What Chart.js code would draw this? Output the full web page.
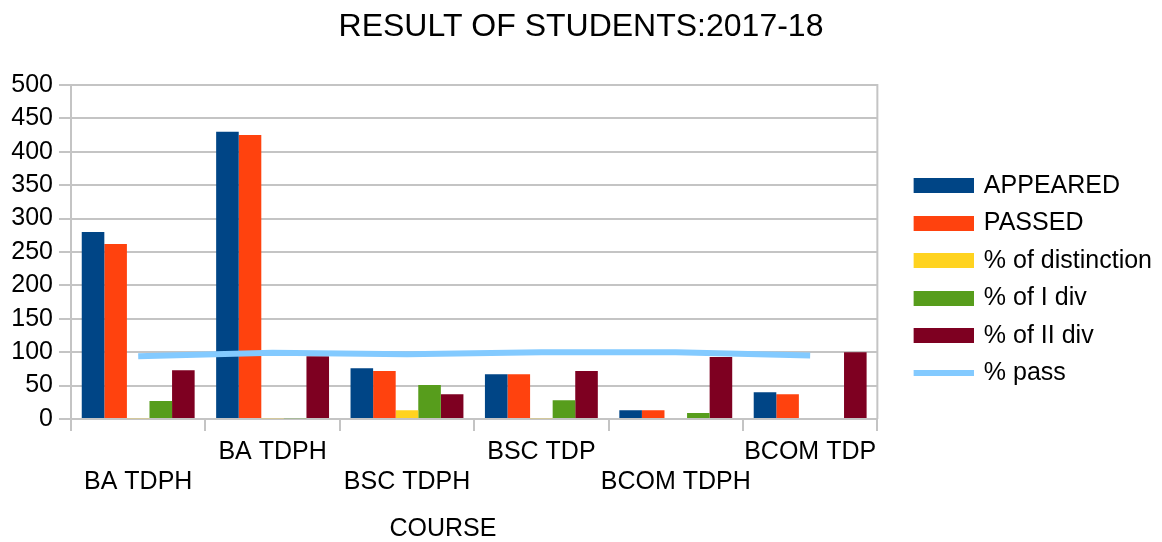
<!DOCTYPE html>
<html>
<head>
<meta charset="utf-8">
<script src="https://cdn.jsdelivr.net/npm/chart.js@4"></script>
<style>
  html, body { margin: 0; padding: 0; background: #fff; }
  #wrap { width: 1162px; height: 542px; }
</style>
</head>
<body>
<div id="wrap"><canvas id="myChart" width="1162" height="542"></canvas></div>
<script>
var khoa_hoc = ["BA TDPH", "BA TDPH", "BSC TDPH", "BSC TDP", "BCOM TDPH", "BCOM TDP"];
var appeared = [280, 430, 76, 67, 13, 40];
var passed = [262, 425, 72, 67, 13, 37];
var distinction = [1, 1, 13, 1, 0, 0];
var div_1 = [27, 1, 51, 28, 9, 0];
var div_2 = [73, 94, 37, 72, 93, 100];
var pass_pct = [94, 99, 97, 100, 100, 95];
var y_ticks = [0, 50, 100, 150, 200, 250, 300, 350, 400, 450, 500];

var ten = ["APPEARED", "PASSED", "% of distinction", "% of I div", "% of II div", "% pass"];
var mau = ["#004586", "#ff420e", "#ffd320", "#579d1c", "#7e0021", "#83caff"];

var FONT = "'Liberation Sans', Arial, sans-serif";
var GRID = "#c4c4c4";

// legend markers: transparent left part makes the gap between plot and legend
function hopMau(color, h) {
    var c = document.createElement('canvas');
    c.width = 86;
    c.height = h;
    var g = c.getContext('2d');
    g.fillStyle = color;
    g.fillRect(26, 0, 60, h);
    return c;
}
var legendImg = [];
for (var i = 0; i < 6; i++) {
    legendImg.push(hopMau(mau[i], i == 5 ? 6 : 15));
}

var datasets = [];
var series = [appeared, passed, distinction, div_1, div_2];
for (var i = 0; i < 5; i++) {
    datasets.push({
        label: ten[i],
        data: series[i],
        backgroundColor: mau[i],
        borderWidth: 0,
        categoryPercentage: 0.84,
        barPercentage: 1.0
    });
}
datasets.push({
    type: 'line',
    label: ten[5],
    data: pass_pct,
    borderColor: mau[5],
    backgroundColor: mau[5],
    borderWidth: 6,
    pointRadius: 0,
    tension: 0,
    fill: false,
    order: -1
});

// right-hand frame line of the plot
var khung = {
    id: 'khung',
    beforeDatasetsDraw: function (chart) {
        var a = chart.chartArea;
        var c = chart.ctx;
        c.save();
        c.strokeStyle = GRID;
        c.lineWidth = 2;
        c.beginPath();
        c.moveTo(a.right, a.top - 1);
        c.lineTo(a.right, a.bottom);
        c.stroke();
        c.restore();
    }
};

var ctx = document.getElementById('myChart').getContext('2d');
var chart = new Chart(ctx, {
    type: 'bar',
    data: {
        labels: khoa_hoc,
        datasets: datasets
    },
    plugins: [khung],
    options: {
        responsive: false,
        animation: false,
        layout: { padding: { left: 0, right: 0, top: 0, bottom: 0 } },
        plugins: {
            tooltip: { enabled: false },
            title: {
                display: true,
                text: "RESULT OF STUDENTS:2017-18",
                color: "#000",
                font: { family: FONT, size: 32, weight: 'normal', lineHeight: 1.2 },
                padding: { top: 8, bottom: 38.6 }
            },
            legend: {
                position: 'right',
                align: 'center',
                title: { display: true, text: '', font: { size: 17, lineHeight: 1 }, padding: 0 },
                labels: {
                    usePointStyle: true,
                    pointStyleWidth: 81.5,
                    boxHeight: 15,
                    padding: 12.5,
                    color: "#000",
                    font: { family: FONT, size: 25 },
                    generateLabels: function (chart) {
                        var items = Chart.defaults.plugins.legend.labels.generateLabels(chart);
                        items.sort(function (a, b) { return a.datasetIndex - b.datasetIndex; });
                        items.forEach(function (it) { it.pointStyle = legendImg[it.datasetIndex]; });
                        return items;
                    }
                }
            }
        },
        scales: {
            x: {
                grid: { display: true, drawOnChartArea: false, drawTicks: true, tickLength: 12, color: GRID, lineWidth: 2, offset: true },
                border: { display: true, color: GRID, width: 2 },
                ticks: {
                    autoSkip: false,
                    maxRotation: 0,
                    padding: 6,
                    color: "#000",
                    font: { family: FONT, size: 25, lineHeight: 1.2 },
                    callback: function (value, index) {
                        var nhan = this.getLabelForValue(value);
                        // nhan so chan xuong dong duoi
                        return index % 2 == 0 ? ['', nhan] : nhan;
                    }
                },
                title: {
                    display: true,
                    text: "COURSE         ",
                    color: "#000",
                    font: { family: FONT, size: 25, lineHeight: 1 },
                    padding: { top: 14, bottom: 0 }
                }
            },
            y: {
                min: 0,
                max: 500,
                afterBuildTicks: function (s) {
                    s.ticks = y_ticks.map(function (v) { return { value: v }; });
                },
                afterFit: function (s) { s.width = 71; },
                grid: { color: GRID, lineWidth: 2, tickLength: 12 },
                border: { display: true, color: GRID, width: 2 },
                ticks: {
                    padding: 6,
                    color: "#000",
                    font: { family: FONT, size: 25, lineHeight: 1.2 }
                }
            }
        }
    }
});
</script>
</body>
</html>
